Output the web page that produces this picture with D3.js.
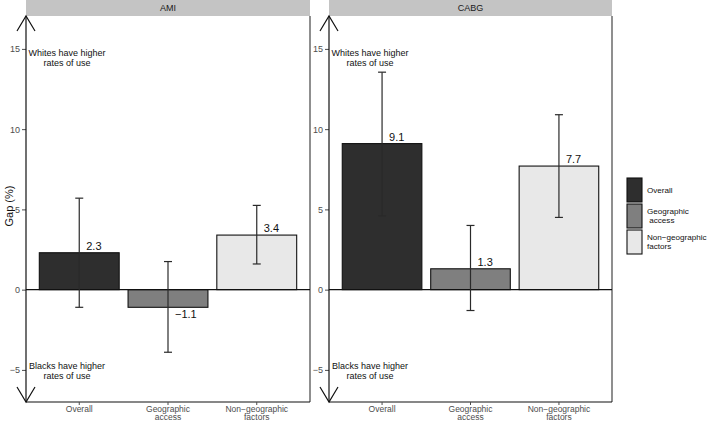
<!DOCTYPE html>
<html>
<head>
<meta charset="utf-8">
<script src="https://cdn.jsdelivr.net/npm/d3@7"></script>
<style>
  body { margin: 0; background: #fff; }
  svg { display: block; font-family: "Liberation Sans", Arial, sans-serif; }
</style>
</head>
<body>
<svg id="chart" width="709" height="422"></svg>
<script>
// ---- data ----
const categories = ["Overall", "Geographic access", "Non-geographic factors"];
const xTickLabels = [["Overall"], ["Geographic", "access"], ["Non\u2212geographic", "factors"]];
const legendLabels = [["Overall"], ["Geographic", "\u00a0access"], ["Non\u2212geographic", "factors"]];
const panelNames = ["AMI", "CABG"];
const amiGap = [2.3, -1.1, 3.4];
const amiLow = [-1.1, -3.9, 1.6];
const amiHigh = [5.7, 1.75, 5.25];
const cabgGap = [9.1, 1.3, 7.7];
const cabgLow = [4.6, -1.3, 4.5];
const cabgHigh = [13.55, 4.0, 10.9];
const yTicks = [-5, 0, 5, 10, 15];
const fills = ["#2e2e2e", "#7f7f7f", "#e8e8e8"];
const topNote = ["Whites have higher", "rates of use"];
const bottomNote = ["Blacks have higher", "rates of use"];

const panels = [
  { name: panelNames[0], gap: amiGap, low: amiLow, high: amiHigh, x0: 26, x1: 310 },
  { name: panelNames[1], gap: cabgGap, low: cabgLow, high: cabgHigh, x0: 329, x1: 612 }
];

const svg = d3.select("#chart");
const panelTop = 16, panelBottom = 402;
const y = d3.scaleLinear().domain([-7, 17.05]).range([panelBottom, panelTop]);

panels.forEach(p => {
  const g = svg.append("g");
  const x = d3.scaleBand().domain(categories).range([p.x0, p.x1])
    .paddingInner(0.1).paddingOuter(0.15);

  // strip
  g.append("rect").attr("x", p.x0).attr("y", 0).attr("width", p.x1 - p.x0).attr("height", panelTop)
    .attr("fill", "#c4c4c4");
  g.append("text").attr("x", (p.x0 + p.x1) / 2).attr("y", 8).attr("dy", "0.35em")
    .attr("text-anchor", "middle").attr("font-size", 9).attr("fill", "#1a1a1a").text(p.name);

  // borders right and bottom
  g.append("line").attr("x1", p.x1).attr("x2", p.x1).attr("y1", panelTop).attr("y2", panelBottom)
    .attr("stroke", "#333").attr("stroke-width", 1.1);
  g.append("line").attr("x1", p.x0).attr("x2", p.x1).attr("y1", panelBottom).attr("y2", panelBottom)
    .attr("stroke", "#111").attr("stroke-width", 1.1);

  const rows = categories.map((c, i) => ({ c, i, v: p.gap[i], lo: p.low[i], hi: p.high[i] }));

  // bars
  g.selectAll("rect.bar").data(rows).enter().append("rect").attr("class", "bar")
    .attr("x", d => x(d.c)).attr("width", x.bandwidth())
    .attr("y", d => y(Math.max(0, d.v))).attr("height", d => Math.abs(y(d.v) - y(0)))
    .attr("fill", d => fills[d.i]).attr("stroke", "#111").attr("stroke-width", 1.1);

  // zero line
  g.append("line").attr("x1", p.x0).attr("x2", p.x1).attr("y1", y(0)).attr("y2", y(0))
    .attr("stroke", "#111").attr("stroke-width", 1.1);

  // error bars
  const cx = d => x(d.c) + x.bandwidth() / 2;
  const eb = g.selectAll("g.eb").data(rows).enter().append("g").attr("class", "eb")
    .attr("stroke", "#2a2a2a").attr("stroke-width", 1.2);
  eb.append("line").attr("x1", cx).attr("x2", cx).attr("y1", d => y(d.lo)).attr("y2", d => y(d.hi));
  eb.append("line").attr("x1", d => cx(d) - 4).attr("x2", d => cx(d) + 4).attr("y1", d => y(d.lo)).attr("y2", d => y(d.lo));
  eb.append("line").attr("x1", d => cx(d) - 4).attr("x2", d => cx(d) + 4).attr("y1", d => y(d.hi)).attr("y2", d => y(d.hi));

  // value labels
  g.selectAll("text.val").data(rows).enter().append("text").attr("class", "val")
    .attr("x", d => cx(d) + 7)
    .attr("y", d => d.v >= 0 ? y(d.v) - 3 : y(d.v) + 11)
    .attr("font-size", 11).attr("fill", "#111")
    .text(d => d3.format(".1f")(d.v));

  // y axis ticks
  const ya = g.append("g").attr("transform", `translate(${p.x0},0)`)
    .call(d3.axisLeft(y).tickValues(yTicks).tickSize(4).tickPadding(2).tickFormat(d3.format("d")));
  ya.select(".domain").remove();
  ya.selectAll(".tick line").attr("stroke", "#4d4d4d");
  ya.selectAll(".tick text").attr("fill", "#4d4d4d").attr("font-size", 9).attr("font-family", "Liberation Sans, Arial, sans-serif");

  // x axis
  const xa = g.append("g").attr("transform", `translate(0,${panelBottom})`)
    .call(d3.axisBottom(x).tickSize(3).tickPadding(2).tickFormat(""));
  xa.select(".domain").remove();
  xa.selectAll(".tick line").attr("stroke", "#4d4d4d");
  xa.selectAll(".tick").each(function(d, i) {
    const t = d3.select(this).append("text").attr("fill", "#4d4d4d").attr("font-size", 8.5)
      .attr("text-anchor", "middle").attr("y", 7);
    xTickLabels[i].forEach((s, k) => t.append("tspan").attr("x", 0).attr("dy", k === 0 ? "0.35em" : "1.0em").text(s));
  });

  // arrow axis
  const ag = g.append("g").attr("stroke", "#111").attr("stroke-width", 1.2).attr("fill", "none");
  ag.append("line").attr("x1", p.x0).attr("x2", p.x0).attr("y1", panelTop).attr("y2", panelBottom);
  ag.append("path").attr("d", `M${p.x0 - 9},${panelTop + 15}L${p.x0},${panelTop}L${p.x0 + 9},${panelTop + 15}`);
  ag.append("path").attr("d", `M${p.x0 - 9},${panelBottom - 15}L${p.x0},${panelBottom}L${p.x0 + 9},${panelBottom - 15}`);

  // annotations
  const noteX = p.x0 + 41;
  const tn = g.append("text").attr("x", noteX).attr("y", y(14.5)).attr("text-anchor", "middle")
    .attr("font-size", 9).attr("fill", "#111");
  topNote.forEach((s, k) => tn.append("tspan").attr("x", noteX).attr("dy", k === 0 ? "-0.15em" : "1.2em").text(s));
  const bn = g.append("text").attr("x", noteX).attr("y", y(-5)).attr("text-anchor", "middle")
    .attr("font-size", 9).attr("fill", "#111");
  bottomNote.forEach((s, k) => bn.append("tspan").attr("x", noteX).attr("dy", k === 0 ? "-0.15em" : "1.2em").text(s));
});

// y axis title
svg.append("text").attr("transform", `translate(9,${(panelTop + panelBottom) / 2 - 3}) rotate(-90)`)
  .attr("text-anchor", "middle").attr("dy", "0.35em").attr("font-size", 11).attr("fill", "#111").text("Gap (%)");

// legend
const lg = svg.append("g");
const keyX = 627, keyW = 15, keyH = 24, keyY0 = 178, keyStep = 26;
legendLabels.forEach((lab, i) => {
  lg.append("rect").attr("x", keyX).attr("y", keyY0 + i * keyStep).attr("width", keyW).attr("height", keyH)
    .attr("fill", fills[i]).attr("stroke", "#111").attr("stroke-width", 1.1);
  const t = lg.append("text").attr("x", 647).attr("font-size", 8.1).attr("fill", "#111");
  const cy = keyY0 + i * keyStep + keyH / 2;
  if (lab.length === 1) {
    t.attr("y", cy).append("tspan").attr("x", 647).attr("dy", "0.35em").text(lab[0]);
  } else {
    t.attr("y", cy - 4.5);
    lab.forEach((s, k) => t.append("tspan").attr("x", 647).attr("dy", k === 0 ? "0.35em" : "1.1em").text(s));
  }
});
</script>
</body>
</html>
